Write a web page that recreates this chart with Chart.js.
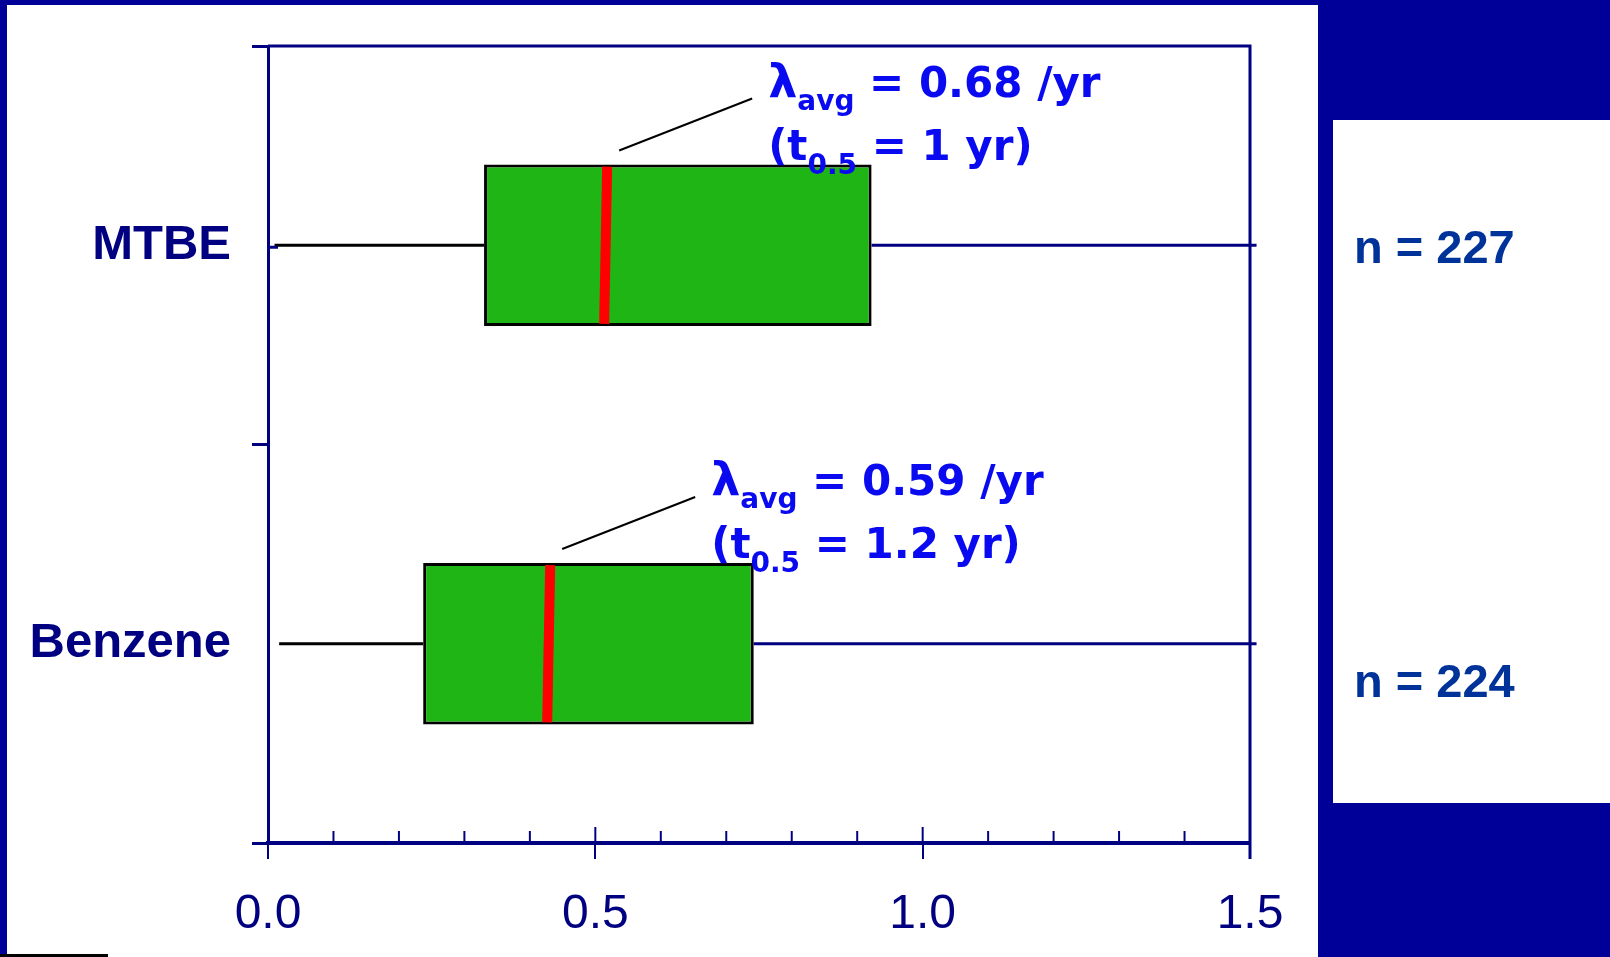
<!doctype html>
<html lang="en">
<head>
  <meta charset="utf-8">
  <title>Degradation rates: MTBE vs Benzene</title>
  <script src="https://cdn.jsdelivr.net/npm/chart.js"></script>
  <style>
    body { margin: 0; width: 1610px; height: 957px; background: #000099; overflow: hidden; font-family: "Liberation Sans", Arial, sans-serif; }
    .panel { position: absolute; background: #fff; }
    #left { left: 7px; top: 5px; width: 1311px; height: 952px; }
    #right { left: 1333px; top: 120px; width: 277px; height: 683px; }
    #foot { position: absolute; left: 0; top: 954px; width: 108px; height: 3px; background: #000; }
    #wrap { position: absolute; left: 0; top: 0; width: 1610px; height: 957px; }
  </style>
</head>
<body>
  <div class="panel" id="left"></div>
  <div class="panel" id="right"></div>
  <div id="foot"></div>
  <div id="wrap"><canvas id="box"></canvas></div>

  <script>
    // decay rate (per year) box plot values
    const categories = ['MTBE', 'Benzene'];
    const q1 = [0.33, 0.237];
    const q3 = [0.922, 0.742];
    const medians = [0.515, 0.428];
    const whiskLo = [0.01, 0.017];
    const whiskHi = [1.51, 1.51];
    const counts = ['n = 227', 'n = 224'];
    const lambdas = ['0.68 /yr', '0.59 /yr'];
    const halfLives = ['1 yr', '1.2 yr'];

    const NAVY = '#000080';
    const BLUE = '#0a0af0';
    const NOTE = '"DejaVu Sans", Verdana, sans-serif';

    // whiskers, medians, frame, inner ticks and the text notes
    const extras = {
      id: 'extras',
      beforeDatasetsDraw(chart) {
        const { ctx, scales: { x, y } } = chart;
        ctx.save();
        ctx.lineWidth = 3;
        categories.forEach((c, i) => {
          const cy = y.getPixelForValue(i);
          ctx.strokeStyle = '#000';
          ctx.beginPath();
          ctx.moveTo(x.getPixelForValue(whiskLo[i]), cy);
          ctx.lineTo(x.getPixelForValue(q1[i]), cy);
          ctx.stroke();
          ctx.strokeStyle = NAVY;
          ctx.beginPath();
          ctx.moveTo(x.getPixelForValue(q3[i]), cy);
          ctx.lineTo(x.getPixelForValue(whiskHi[i]), cy);
          ctx.stroke();
        });
        ctx.restore();
      },
      afterDatasetsDraw(chart) {
        const { ctx, chartArea: a, scales: { x, y } } = chart;
        const bars = chart.getDatasetMeta(0).data;
        ctx.save();
        // frame top and right
        ctx.strokeStyle = NAVY;
        ctx.lineWidth = 3;
        ctx.beginPath();
        ctx.moveTo(a.left, a.top);
        ctx.lineTo(a.right, a.top);
        ctx.lineTo(a.right, a.bottom + 16);
        ctx.stroke();
        // inner x ticks
        ctx.lineWidth = 2;
        for (let k = 0; k <= 15; k++) {
          const px = x.getPixelForValue(k / 10);
          ctx.beginPath();
          ctx.moveTo(px, a.bottom);
          ctx.lineTo(px, a.bottom - (k % 5 === 0 ? 16 : 12));
          ctx.stroke();
        }
        // small stub at MTBE centre
        ctx.lineWidth = 3;
        ctx.beginPath();
        ctx.moveTo(a.left, y.getPixelForValue(0) + 2);
        ctx.lineTo(a.left + 10, y.getPixelForValue(0) + 2);
        ctx.stroke();

        categories.forEach((c, i) => {
          const bar = bars[i];
          const top = bar.y - bar.height / 2;
          const bot = bar.y + bar.height / 2;
          const mx = x.getPixelForValue(medians[i]);
          ctx.strokeStyle = '#ff0000';
          ctx.lineWidth = 10;
          ctx.beginPath();
          ctx.moveTo(mx + 2, top + 2);
          ctx.lineTo(mx - 1, bot - 2);
          ctx.stroke();

          // leader line and note
          const sx = mx + 14, sy = top - 14;
          const ex = sx + 133, ey = sy - 52;
          ctx.strokeStyle = '#000';
          ctx.lineWidth = 2;
          ctx.beginPath();
          ctx.moveTo(sx, sy);
          ctx.lineTo(ex, ey);
          ctx.stroke();

          ctx.fillStyle = BLUE;
          ctx.textBaseline = 'alphabetic';
          ctx.textAlign = 'left';
          let tx = ex + 16, ty = ey - 2;
          ctx.font = 'bold 46px ' + NOTE;
          ctx.fillText('λ', tx, ty);
          tx += ctx.measureText('λ').width;
          ctx.font = 'bold 28px ' + NOTE;
          ctx.fillText('avg', tx, ty + 13);
          tx += ctx.measureText('avg').width;
          ctx.font = 'bold 42px ' + NOTE;
          ctx.fillText(' = ' + lambdas[i], tx, ty);

          tx = ex + 16; ty = ey + 61;
          ctx.fillText('(t', tx, ty);
          tx += ctx.measureText('(t').width;
          ctx.font = 'bold 28px ' + NOTE;
          ctx.fillText('0.5', tx, ty + 14);
          tx += ctx.measureText('0.5').width;
          ctx.font = 'bold 42px ' + NOTE;
          ctx.fillText(' = ' + halfLives[i] + ')', tx, ty);

          // sample counts in the right panel
          ctx.fillStyle = '#003399';
          ctx.font = 'bold 47px "Liberation Sans", Arial, sans-serif';
          ctx.fillText(counts[i], 1354, i === 0 ? 263 : 697);
        });
        ctx.restore();
      }
    };

    new Chart(document.getElementById('box'), {
      type: 'bar',
      data: {
        labels: categories,
        datasets: [{
          data: categories.map((c, i) => [q1[i], q3[i]]),
          backgroundColor: '#1fb515',
          borderColor: '#000',
          borderWidth: 3,
          borderSkipped: false,
          barPercentage: 0.405,
          categoryPercentage: 1
        }]
      },
      options: {
        indexAxis: 'y',
        responsive: true,
        maintainAspectRatio: false,
        animation: false,
        layout: { padding: { top: 46, right: 360, bottom: 0, left: 0 } },
        plugins: { legend: { display: false }, tooltip: { enabled: false } },
        scales: {
          x: {
            type: 'linear',
            min: 0,
            max: 1.5,
            afterFit: s => { s.height = 114; s.paddingLeft = 0; s.paddingRight = 0; },
            border: { color: NAVY, width: 4 },
            grid: { drawOnChartArea: false, color: NAVY, lineWidth: 2, tickLength: 16 },
            ticks: {
              stepSize: 0.5,
              color: NAVY,
              padding: 27,
              maxRotation: 0,
              font: { family: '"Liberation Sans", Arial, sans-serif', size: 48 },
              callback: v => Number(v).toFixed(1)
            }
          },
          y: {
            afterFit: s => { s.width = 268; s.paddingTop = 0; s.paddingBottom = 0; },
            border: { color: NAVY, width: 3 },
            grid: { drawOnChartArea: false, color: NAVY, lineWidth: 3, tickLength: 16, offset: true },
            ticks: {
              color: NAVY,
              padding: 21,
              font: { family: '"Liberation Sans", Arial, sans-serif', size: 49, weight: 'bold' }
            }
          }
        }
      },
      plugins: [extras]
    });
  </script>
</body>
</html>
